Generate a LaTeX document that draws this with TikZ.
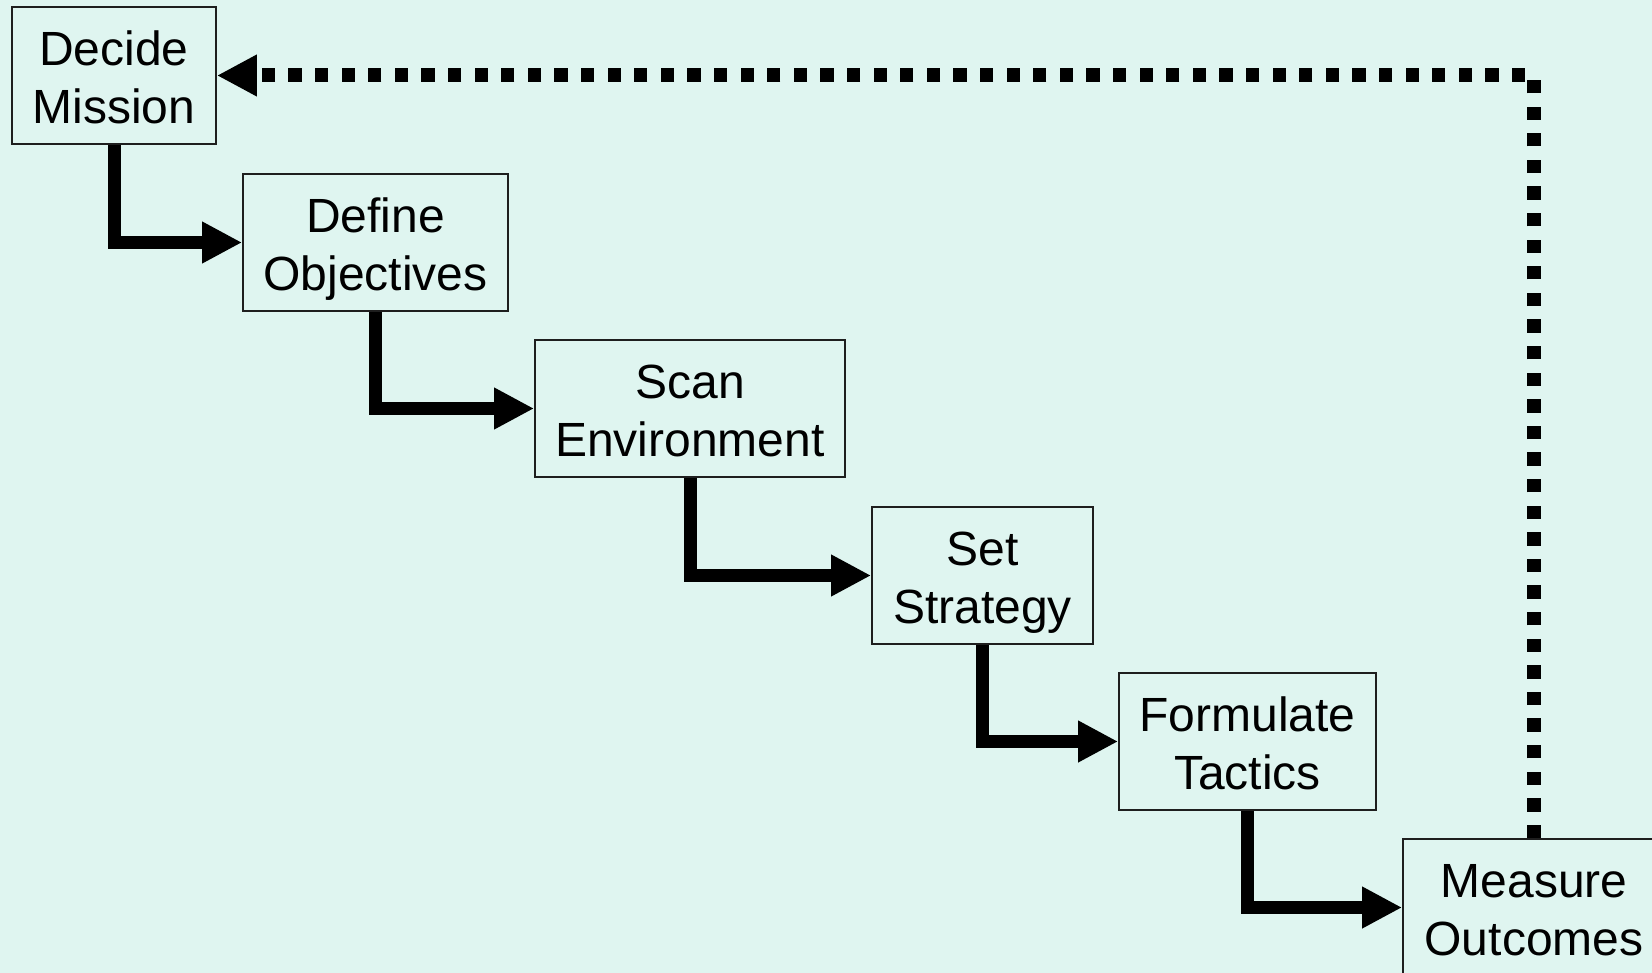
\documentclass[tikz,border=0pt]{standalone}
\usepackage{fontspec}
\setmainfont{Liberation Sans}
\usetikzlibrary{arrows.meta}
\definecolor{mint}{RGB}{223,245,240}
\definecolor{boxline}{RGB}{30,30,30}
\tikzset{
  stepbox/.style={draw=boxline, line width=1.8pt, fill=mint, inner sep=0pt,
    minimum height=137pt, align=center,
    font=\fontsize{48}{58}\selectfont,
    % fixed text box extents so every label sits at the same height
    text height=106pt, text depth=10pt},
  flow/.style={line width=13pt, line join=miter,
    -{Triangle[length=40pt,width=39pt]}},
  feedback/.style={line width=14pt, dash pattern=on 13.3pt off 13.3pt,
    -{Triangle[length=40pt,width=39pt]}}
}
\begin{document}
\begin{tikzpicture}[x=1pt,y=-1pt]
  \fill[mint] (0,0) rectangle (1652,973);
  \useasboundingbox (0,0) rectangle (1652,973);
  \clip (0,0) rectangle (1652,973);

  \node[stepbox, minimum width=204pt] (mission)    at (114,75.5)    {Decide\\Mission};
  \node[stepbox, minimum width=265pt] (objectives) at (375.5,242.5) {Define\\Objectives};
  \node[stepbox, minimum width=310pt] (scan)       at (690,408.5)   {Scan\\Environment};
  \node[stepbox, minimum width=221pt] (strategy)   at (982.5,575.5) {Set\\Strategy};
  \node[stepbox, minimum width=257pt] (tactics)    at (1247.5,741.5) {Formulate\\Tactics};
  \node[stepbox, minimum width=262pt] (measure)    at (1534,907.5)  {Measure\\Outcomes};

  % staircase of steps
  \draw[flow] (mission.south)    |- (objectives.west);
  \draw[flow] (objectives.south) |- (scan.west);
  \draw[flow] (scan.south)       |- (strategy.west);
  \draw[flow] (strategy.south)   |- (tactics.west);
  \draw[flow] (tactics.south)    |- (measure.west);

  % feedback loop back to the mission
  \draw[feedback] (measure.north) |- (mission.east);
\end{tikzpicture}
\end{document}
